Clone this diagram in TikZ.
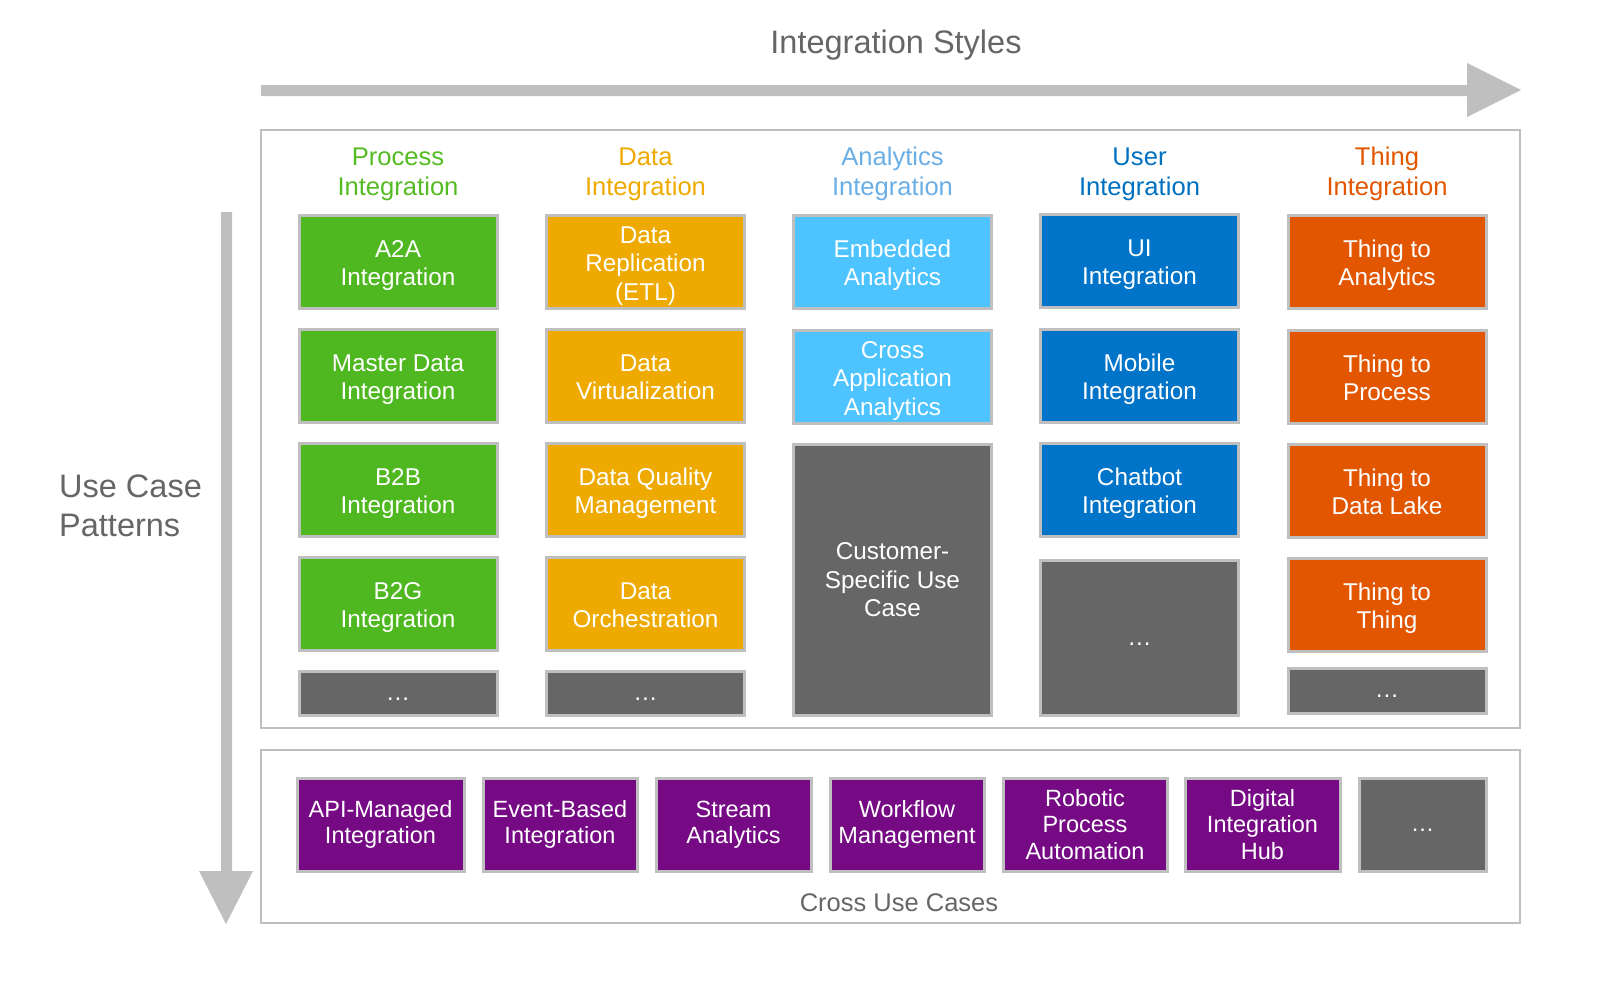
\documentclass[tikz,border=0pt]{standalone}
\usepackage{fontspec}
\setmainfont{Liberation Sans}
\definecolor{cgreen}{HTML}{4FB820}
\definecolor{cyellow}{HTML}{EEAA00}
\definecolor{clblue}{HTML}{4DC3FF}
\definecolor{cblue}{HTML}{0074C8}
\definecolor{corange}{HTML}{E25600}
\definecolor{cpurple}{HTML}{760A85}
\definecolor{cgrey}{HTML}{666666}
\definecolor{cborder}{HTML}{BFBFBF}
\definecolor{htgreen}{HTML}{55BB22}
\definecolor{htyellow}{HTML}{EEAA00}
\definecolor{htlblue}{HTML}{6AAEE6}
\definecolor{htblue}{HTML}{0070C0}
\definecolor{htorange}{HTML}{E25600}
\newcommand\dotsmark{\smash{\raisebox{-7pt}{…}}}
\newcommand\tb[1]{\rule{0pt}{24.5pt}#1\rule[-5.2pt]{0pt}{5.2pt}}
\begin{document}
\begin{tikzpicture}[x=1pt,y=-1pt,
  box/.style={draw=cborder, line width=3pt, inner sep=0pt, align=center, text=white,
    minimum width=198pt, minimum height=93pt, font=\fontsize{24.3}{28.5}\selectfont},
  tbox/.style={box, fill=#1},
  cbox/.style={box, minimum height=93pt, font=\fontsize{23.5}{26.5}\selectfont},
  panel/.style={draw=cborder, line width=2pt},
  head/.style={align=center, inner sep=0pt, font=\fontsize{25.6}{30.6}\selectfont},
  bigarrow/.style={fill=cborder, draw=none}
]
\useasboundingbox (0,0) rectangle (1598,980);

% arrows
\fill[bigarrow] (261,85) -- (1467,85) -- (1467,63) -- (1521,90) -- (1467,117) -- (1467,96) -- (261,96) -- cycle;
\fill[bigarrow] (221,212) -- (232,212) -- (232,871) -- (253,871) -- (226,924) -- (199,871) -- (221,871) -- cycle;

\node[text=cgrey, font=\fontsize{32.5}{38}\selectfont, inner sep=0pt] (title) at (896,45) {Integration Styles};
\node[text=cgrey, font=\fontsize{32.5}{39}\selectfont, align=left, anchor=west, inner sep=0pt] (ucp) at (59,506) {Use Case\\Patterns};

% panels
\draw[panel] (261,130) rectangle (1520,728);
\draw[panel] (261,750) rectangle (1520,923);

% headers
\node[head, text=htgreen] (h1) at (398,174.5) {Process\\Integration};
\node[head, text=htyellow] (h2) at (645.5,174.5) {Data\\Integration};
\node[head, text=htlblue] (h3) at (892.5,174) {Analytics\\Integration};
\node[head, text=htblue] (h4) at (1139.5,174.5) {User\\Integration};
\node[head, text=htorange] (h5) at (1387,174) {Thing\\Integration};

% column 1
\node[tbox=cgreen] (p1) at (398,262) {\tb{A2A\\Integration}};
\node[tbox=cgreen] (p2) at (398,376) {\tb{Master Data\\Integration}};
\node[tbox=cgreen] (p3) at (398,490) {\tb{B2B\\Integration}};
\node[tbox=cgreen] (p4) at (398,604) {\tb{B2G\\Integration}};
\node[box, fill=cgrey, minimum height=44pt] (p5) at (398,693) {\dotsmark};

% column 2
\node[tbox=cyellow] (d1) at (645.5,262) {\tb{Data\\Replication\\(ETL)}};
\node[tbox=cyellow] (d2) at (645.5,376) {\tb{Data\\Virtualization}};
\node[tbox=cyellow] (d3) at (645.5,490) {\tb{Data Quality\\Management}};
\node[tbox=cyellow] (d4) at (645.5,604) {\tb{Data\\Orchestration}};
\node[box, fill=cgrey, minimum height=44pt] (d5) at (645.5,693) {\dotsmark};

% column 3
\node[tbox=clblue] (a1) at (892.5,262) {\tb{Embedded\\Analytics}};
\node[tbox=clblue] (a2) at (892.5,377) {\tb{Cross\\Application\\Analytics}};
\node[box, fill=cgrey, minimum height=271pt] (a3) at (892.5,580) {Customer-\\Specific Use\\Case};

% column 4
\node[tbox=cblue] (u1) at (1139.5,261) {\tb{UI\\Integration}};
\node[tbox=cblue] (u2) at (1139.5,376) {\tb{Mobile\\Integration}};
\node[tbox=cblue] (u3) at (1139.5,490) {\tb{Chatbot\\Integration}};
\node[box, fill=cgrey, minimum height=155pt] (u4) at (1139.5,638) {\dotsmark};

% column 5
\node[tbox=corange] (t1) at (1387,262) {\tb{Thing to\\Analytics}};
\node[tbox=corange] (t2) at (1387,377) {\tb{Thing to\\Process}};
\node[tbox=corange] (t3) at (1387,491) {\tb{Thing to\\Data Lake}};
\node[tbox=corange] (t4) at (1387,605) {\tb{Thing to\\Thing}};
\node[box, fill=cgrey, minimum height=45pt] (t5) at (1387,690.5) {\dotsmark};

% cross use cases
\node[cbox, fill=cpurple, minimum width=167pt] (c1) at (380.5,824.5) {API-Managed\\Integration};
\node[cbox, fill=cpurple, minimum width=154pt] (c2) at (560,824.5) {Event-Based\\Integration};
\node[cbox, fill=cpurple, minimum width=155pt] (c3) at (733.5,824.5) {Stream\\Analytics};
\node[cbox, fill=cpurple, minimum width=154pt] (c4) at (907,824.5) {Workflow\\Management};
\node[cbox, fill=cpurple, minimum width=164pt] (c5) at (1085,824.5) {Robotic\\Process\\Automation};
\node[cbox, fill=cpurple, minimum width=155pt] (c6) at (1262.5,824.5) {Digital\\Integration\\Hub};
\node[cbox, fill=cgrey, minimum width=127pt] (c7) at (1422.5,824.5) {\dotsmark};

\node[text=cgrey, font=\fontsize{25.5}{30}\selectfont, inner sep=0pt] (cuc) at (899,903) {Cross Use Cases};
\end{tikzpicture}
\end{document}
